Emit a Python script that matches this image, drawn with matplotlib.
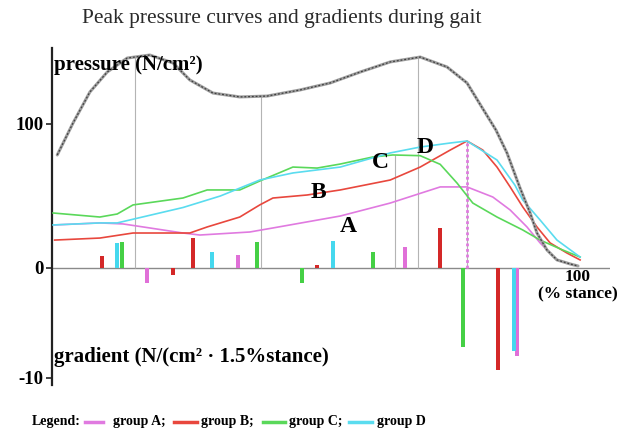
import numpy as np
import matplotlib
matplotlib.use("Agg")
import matplotlib.pyplot as plt
from matplotlib.lines import Line2D

plt.rcParams["font.family"] = ["Liberation Serif", "DejaVu Serif"]

# Peak pressure during stance (% stance, N/cm²)
stance_peak = [1.0, 4.0, 7.2, 10.5, 14.3, 18.6, 23.0, 26.2, 30.6, 35.7, 40.9, 47.1,
               52.9, 58.6, 64.3, 70.0, 75.1, 78.9, 81.7, 84.4, 86.5, 88.9, 90.9,
               92.2, 94.1, 96.0, 98.5, 100.0]
peak_pressure = [78.5, 100.7, 122.2, 136.1, 145.8, 147.9, 142.4, 130.6, 121.5, 118.8,
                 119.4, 123.6, 128.5, 136.1, 143.1, 146.5, 139.6, 128.5, 111.8, 95.8,
                 79.9, 56.3, 38.2, 24.3, 12.5, 5.6, 2.8, 1.4]

# Pressure curves per group
stance_a = [0.5, 9.1, 13.5, 18.6, 24.9, 28.1, 37.6, 42.0, 54.8, 64.3, 73.8, 78.9,
            83.8, 87.1, 90.3, 92.8, 96.0, 99.0]
pressure_a = [29.9, 31.3, 30.6, 27.8, 24.3, 22.9, 25.0, 27.8, 36.1, 45.1, 56.3, 56.3,
              49.3, 40.3, 28.5, 17.4, 5.6, 2.1]

stance_b = [0.5, 9.1, 15.4, 21.9, 26.2, 29.5, 35.7, 39.5, 42.0, 48.5, 54.8, 64.3,
            70.0, 75.7, 78.9, 81.9, 84.6, 87.1, 89.5, 92.2, 94.7, 97.9, 100.4]
pressure_b = [19.4, 20.8, 24.3, 24.3, 24.3, 28.5, 35.4, 43.8, 48.6, 50.7, 54.2, 61.1,
              70.1, 81.9, 88.2, 81.9, 70.1, 56.3, 42.4, 28.5, 17.4, 10.4, 5.6]

stance_c = [0.2, 9.1, 12.4, 15.4, 24.9, 29.5, 35.7, 39.5, 45.8, 50.4, 54.8, 61.0,
            64.8, 70.0, 73.8, 77.0, 80.0, 84.6, 89.5, 92.8, 97.1, 100.4]
pressure_c = [38.2, 35.4, 37.5, 43.8, 48.6, 54.2, 54.2, 60.4, 70.1, 69.4, 72.2, 77.1,
              78.5, 78.0, 72.0, 59.0, 45.1, 35.4, 26.4, 19.4, 12.5, 7.6]

stance_d = [0.2, 9.1, 12.4, 24.9, 32.0, 39.5, 45.8, 54.8, 64.3, 70.0, 75.7, 78.9,
            84.6, 88.0, 89.5, 92.8, 96.0, 100.4]
pressure_d = [29.9, 31.3, 31.3, 42.0, 50.0, 61.1, 66.0, 70.1, 79.9, 84.0, 86.8, 88.2,
              75.0, 57.6, 47.2, 33.3, 19.4, 7.6]

# Pressure gradients (N/(cm²·1.5% stance)) at their stance positions
grad_pos_a = [18.1, 35.4, 67.1, 88.4]
grad_a = [-1.4, 1.2, 1.9, -8.0]
grad_pos_b = [9.5, 23.0, 26.8, 50.4, 73.8, 84.8]
grad_b = [1.1, -0.6, 2.7, 0.3, 3.6, -9.3]
grad_pos_c = [13.3, 39.0, 47.5, 61.0, 78.1]
grad_c = [2.4, 2.4, -1.4, 1.5, -7.2]
grad_pos_d = [12.4, 30.4, 53.4, 87.8]
grad_d = [2.3, 1.5, 2.5, -7.5]

group_names = ["group A;", "group B;", "group C;", "group D"]
curve_letters = ["A", "B", "C", "D"]
letter_pos = [(56.3, 29.0), (50.6, 52.5), (62.4, 73.5), (70.9, 83.5)]

col_line = ["#e07ae0", "#e8473d", "#5ad85a", "#5adcef"]
col_bar = ["#e070d8", "#d42828", "#45d045", "#45d8ee"]

W, H = 628, 433
fig = plt.figure(figsize=(W / 100, H / 100), dpi=100)
fig.patch.set_facecolor("white")

# axes box in pixels
x0_px, x1_px, ytop_px, ybot_px = 52, 610, 48, 385
px_per_pct = 5.26
px_per_p = 1.44
px_per_g = 11.0
zero_px = 268

ax = fig.add_axes([x0_px / W, (H - ybot_px) / H, (x1_px - x0_px) / W, (ybot_px - ytop_px) / H])
ax.set_xlim(0, (x1_px - x0_px) / px_per_pct)
p_lim = ((zero_px - ybot_px) / px_per_p, (zero_px - ytop_px) / px_per_p)
ax.set_ylim(*p_lim)
ax.patch.set_alpha(0)

ax2 = ax.twinx()
scale = px_per_g / px_per_p
ax2.set_ylim(p_lim[0] / scale, p_lim[1] / scale)

for a in (ax, ax2):
    for s in ("top", "right", "bottom"):
        a.spines[s].set_visible(False)
ax2.spines["left"].set_visible(False)
ax.spines["left"].set_linewidth(1.6)
ax.spines["left"].set_color("#222222")
ax.set_xticks([])
ax2.set_xticks([])

tick_kw = dict(fontsize=13.5, fontweight="bold")
ax.set_yticks([0, 100])
ax.set_yticklabels(["0", "100"], **tick_kw)
ax2.yaxis.tick_left()
ax2.set_yticks([-10])
ax2.set_yticklabels(["-10"], **tick_kw)
for a in (ax, ax2):
    a.tick_params(axis="y", length=4, width=1.2, color="#222222", pad=2)

# zero line
ax.axhline(0, color="#8a8a8a", lw=1.0, zorder=1)

# marker lines at curve extremes
grey_marks = [15.8, 39.7, 69.6]
for xm in grey_marks:
    ax.vlines(xm, 0, np.interp(xm, stance_peak, peak_pressure), color="#b4b4b4", lw=0.8, zorder=1)
ax.vlines(65.2, 0, np.interp(65.2, stance_c, pressure_c), color="#b4b4b4", lw=0.8, zorder=1)
ax.vlines(78.9, 0, max(pressure_b), color="#b4b4b4", lw=0.8, zorder=1)
ax.vlines(78.9, 0, max(pressure_b), color=col_line[0], lw=2.0, ls=(0, (1, 1)), zorder=1)

# gradient bars
for pos, g, c in zip([grad_pos_a, grad_pos_b, grad_pos_c, grad_pos_d],
                     [grad_a, grad_b, grad_c, grad_d], col_bar):
    ax2.bar(pos, g, width=0.7, color=c, zorder=2)

# group pressure curves
for xs, ys, c in zip([stance_a, stance_b, stance_c, stance_d],
                     [pressure_a, pressure_b, pressure_c, pressure_d], col_line):
    ax.plot(xs, ys, color=c, lw=1.2, zorder=3)

# overall peak pressure curve
ax.plot(stance_peak, peak_pressure, color="#a0a0a0", lw=2.2, zorder=4, solid_capstyle="round")
ax.plot(stance_peak, peak_pressure, color="#404040", lw=0.9, ls=(0, (1.5, 1.5)), zorder=5)

for (lx, ly), t in zip(letter_pos, curve_letters):
    ax.text(lx, ly, t, fontsize=17, fontweight="bold", ha="center", va="center", zorder=6)

ax.text(0.3, 141, "pressure (N/cm²)", fontsize=15, fontweight="bold", ha="left", va="center", zorder=6)
ax.text(0.3, (zero_px - 357) / px_per_p, "gradient (N/(cm² · 1.5%stance)", fontsize=15,
        fontweight="bold", ha="left", va="center", zorder=6)
ax.text(100, (zero_px - 277) / px_per_p, "100", fontsize=12.5, fontweight="bold", ha="center", va="center")
ax.text(100, (zero_px - 294) / px_per_p, "(% stance)", fontsize=12.5, fontweight="bold", ha="center", va="center")

fig.text(282 / W, 1 - 18 / H, "Peak pressure curves and gradients during gait",
         fontsize=15.5, ha="center", va="center", color="#2a2a2a")

# legend row
ly = 1 - 422 / H
fs = 10
fig.text(32 / W, ly, "Legend:", fontsize=fs, fontweight="bold", ha="left", va="center")
seg = [(85, 103, 113), (174, 197, 201), (263, 285, 289), (349, 372, 377)]
for (a0, a1, tx), c, name in zip(seg, col_line, group_names):
    fig.add_artist(Line2D([a0 / W, a1 / W], [ly, ly], color=c, lw=2.5, transform=fig.transFigure))
    fig.text(tx / W, ly, name, fontsize=fs, fontweight="bold", ha="left", va="center")

fig.savefig("out.png", dpi=100, facecolor="white")
